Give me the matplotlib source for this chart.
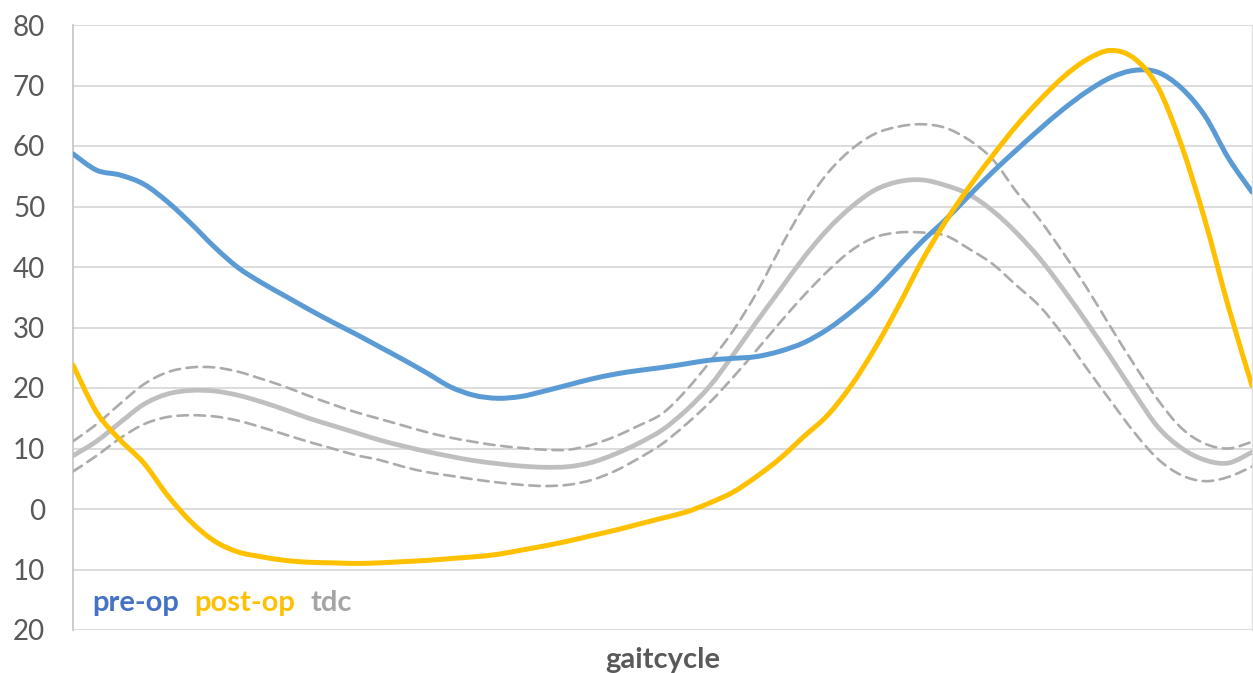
"""
Knee angle over the gait cycle: pre-op and post-op against the typically developing
control (tdc) mean with its +/- band, drawn as a smoothed line chart and saved to out.png.
"""

import matplotlib.pyplot as plt
from matplotlib.patches import PathPatch
from matplotlib.path import Path
from matplotlib.ticker import FuncFormatter

plt.rcParams["font.family"] = ["Lato", "DejaVu Sans"]

# Gait cycle in percent, sampled every 2 %
gait_pct = list(range(0, 101, 2))

pre_op = [
    58.7, 56.0, 55.2, 53.7, 50.8, 47.2, 43.3, 39.9, 37.4, 35.2,
    33.0, 30.9, 28.9, 26.8, 24.7, 22.5, 20.2, 18.8, 18.3, 18.6,
    19.5, 20.5, 21.5, 22.3, 22.9, 23.4, 24.0, 24.6, 24.9, 25.2,
    26.1, 27.5, 29.7, 32.6, 36.0, 40.1, 44.2, 47.8, 51.8, 55.7,
    59.3, 62.8, 66.1, 69.0, 71.3, 72.5, 72.2, 69.6, 65.0, 58.0,
    52.4,
]

post_op = [
    23.8, 16.0, 11.4, 7.6, 2.3, -2.1, -5.3, -7.1, -7.9, -8.5,
    -8.8, -8.9, -9.0, -8.9, -8.7, -8.5, -8.2, -7.9, -7.5, -6.8,
    -6.1, -5.3, -4.4, -3.5, -2.5, -1.5, -0.5, 1.0, 2.8, 5.4,
    8.4, 12.0, 15.5, 20.4, 26.5, 33.5, 41.0, 47.5, 53.2, 58.4,
    63.3, 67.6, 71.4, 74.3, 75.8, 74.5, 69.8, 60.2, 47.8, 33.4,
    20.4,
]

tdc_mean = [
    8.8, 11.2, 14.3, 17.3, 19.0, 19.6, 19.5, 18.8, 17.7, 16.4,
    15.0, 13.8, 12.6, 11.4, 10.4, 9.5, 8.7, 8.0, 7.5, 7.1,
    6.9, 7.0, 7.7, 9.1, 10.9, 13.1, 16.3, 20.3, 25.5, 31.0,
    36.3, 41.6, 46.2, 49.9, 52.7, 54.1, 54.4, 53.5, 52.0, 49.3,
    45.7, 41.4, 36.3, 30.8, 25.1, 19.2, 13.6, 10.1, 8.1, 7.6,
    9.4,
]

tdc_upper = [
    11.2, 14.0, 17.4, 20.6, 22.6, 23.4, 23.4, 22.7, 21.5, 20.2,
    18.7, 17.3, 16.0, 14.9, 13.8, 12.7, 11.8, 11.1, 10.5, 10.1,
    9.8, 9.8, 10.6, 12.0, 13.8, 15.8, 19.6, 24.3, 29.5, 35.8,
    43.2, 50.0, 55.5, 59.4, 62.0, 63.2, 63.6, 63.0, 61.0, 57.8,
    52.5, 47.8, 42.3, 36.5, 30.1, 23.9, 18.1, 13.4, 10.8, 10.0,
    11.1,
]

tdc_lower = [
    6.2, 8.8, 11.7, 14.0, 15.2, 15.5, 15.3, 14.6, 13.5, 12.3,
    11.1, 10.0, 8.9, 8.1, 7.0, 6.1, 5.5, 4.9, 4.4, 4.0,
    3.8, 4.0, 4.8, 6.3, 8.4, 10.8, 14.0, 17.6, 21.8, 26.3,
    30.9, 35.3, 39.3, 42.7, 44.9, 45.7, 45.7, 45.2, 43.0, 40.5,
    37.0, 33.5, 28.7, 23.2, 17.9, 12.7, 8.3, 5.6, 4.6, 5.3,
    7.0,
]

y_ticks = list(range(-20, 81, 10))

BLUE = "#5B9BD5"
YELLOW = "#FFC000"
GRAY = "#BFBFBF"
DASH_GRAY = "#ABABAB"
TEXT_GRAY = "#595959"


def smooth_line(ax, x, y, **kw):
    """Smoothed line through the points (Catmull-Rom as cubic Bezier segments)."""
    n = len(x)
    verts = [(x[0], y[0])]
    codes = [Path.MOVETO]
    for i in range(n - 1):
        i0, i3 = max(i - 1, 0), min(i + 2, n - 1)
        c1 = (x[i] + (x[i + 1] - x[i0]) / 6, y[i] + (y[i + 1] - y[i0]) / 6)
        c2 = (x[i + 1] - (x[i3] - x[i]) / 6, y[i + 1] - (y[i3] - y[i]) / 6)
        verts += [c1, c2, (x[i + 1], y[i + 1])]
        codes += [Path.CURVE4] * 3
    patch = PathPatch(Path(verts, codes), fill=False, capstyle="round",
                      joinstyle="round", **kw)
    ax.add_patch(patch)
    return patch


fig = plt.figure(figsize=(12.53, 6.73), dpi=100)
ax = fig.add_axes([73 / 1253, 43 / 673, 1179 / 1253, 605 / 673])

dash = (0, (4, 2.5))
smooth_line(ax, gait_pct, tdc_upper, edgecolor=DASH_GRAY, linewidth=1.9, linestyle=dash, zorder=3)
smooth_line(ax, gait_pct, tdc_lower, edgecolor=DASH_GRAY, linewidth=1.9, linestyle=dash, zorder=3)
smooth_line(ax, gait_pct, tdc_mean, edgecolor=GRAY, linewidth=3.4, zorder=4)
smooth_line(ax, gait_pct, pre_op, edgecolor=BLUE, linewidth=3.6, zorder=5)
smooth_line(ax, gait_pct, post_op, edgecolor=YELLOW, linewidth=3.6, zorder=6)

ax.set_xlim(0, 100)
ax.set_ylim(-20, 80)
ax.set_yticks(y_ticks)
# negative values are shown without the minus sign
ax.yaxis.set_major_formatter(FuncFormatter(lambda v, _: f"{abs(v):.0f}"))
ax.set_xticks([])
ax.tick_params(axis="y", length=0, pad=20, labelsize=20, labelcolor=TEXT_GRAY)

ax.grid(axis="y", color="#D9D9D9", linewidth=1.3, zorder=0)
ax.set_axisbelow(True)
for side in ["top", "bottom"]:
    ax.spines[side].set_visible(False)
ax.spines["left"].set_color("#C8C8C8")
ax.spines["left"].set_linewidth(1.3)
ax.spines["right"].set_color("#E0E0E0")
ax.spines["right"].set_linewidth(1.0)

ax.set_xlabel("gaitcycle", fontsize=21, fontweight="bold", color=TEXT_GRAY, labelpad=12)

# series names as coloured text, chained left to right
t = ax.text(0.016, 0.045, "pre-op", transform=ax.transAxes, fontsize=21,
            fontweight="bold", color="#4472C4", va="center", ha="left")
for label, col in [("post-op", YELLOW), ("tdc", "#A5A5A5")]:
    t = ax.annotate(label, xy=(1, 0.5), xycoords=t, xytext=(11, 0),
                    textcoords="offset points", fontsize=21, fontweight="bold",
                    color=col, va="center", ha="left")

fig.savefig("out.png", dpi=100)
plt.close()
